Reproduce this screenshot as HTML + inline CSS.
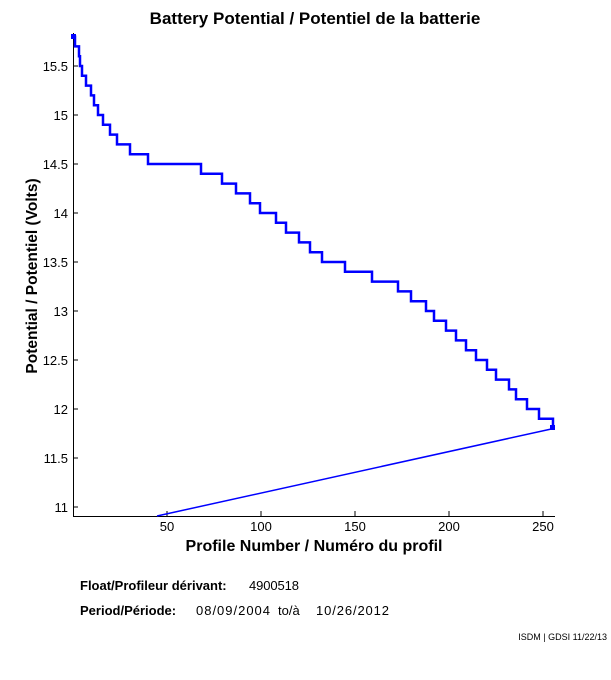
<!DOCTYPE html>
<html><head><meta charset="utf-8"><style>
body{margin:0;background:#fff;}
svg text{font-family:"Liberation Sans",sans-serif;}
</style></head><body>
<svg width="611" height="675" xmlns="http://www.w3.org/2000/svg">
<rect width="611" height="675" fill="#fff"/>
<text x="315" y="24" font-size="17" font-weight="bold" text-anchor="middle">Battery Potential / Potentiel de la batterie</text>
<g stroke="#000" stroke-width="1">
<line x1="73.5" y1="33" x2="73.5" y2="517"/>
<line x1="73" y1="516.5" x2="555" y2="516.5"/>
<line x1="73" y1="507" x2="78" y2="507"/><line x1="73" y1="458" x2="78" y2="458"/>
<line x1="73" y1="409" x2="78" y2="409"/><line x1="73" y1="360" x2="78" y2="360"/>
<line x1="73" y1="311" x2="78" y2="311"/><line x1="73" y1="262" x2="78" y2="262"/>
<line x1="73" y1="213" x2="78" y2="213"/><line x1="73" y1="164" x2="78" y2="164"/>
<line x1="73" y1="115" x2="78" y2="115"/><line x1="73" y1="66" x2="78" y2="66"/>
<line x1="167" y1="516" x2="167" y2="511"/><line x1="261" y1="516" x2="261" y2="511"/>
<line x1="355" y1="516" x2="355" y2="511"/><line x1="449" y1="516" x2="449" y2="511"/>
<line x1="543" y1="516" x2="543" y2="511"/>
</g>
<g font-size="13" text-anchor="end">
<text x="68" y="512">11</text><text x="68" y="463">11.5</text><text x="68" y="414">12</text>
<text x="68" y="365">12.5</text><text x="68" y="316">13</text><text x="68" y="267">13.5</text>
<text x="68" y="218">14</text><text x="68" y="169">14.5</text><text x="68" y="120">15</text>
<text x="68" y="71">15.5</text>
</g>
<g font-size="13" text-anchor="middle">
<text x="167" y="531">50</text><text x="261" y="531">100</text><text x="355" y="531">150</text>
<text x="449" y="531">200</text><text x="543" y="531">250</text>
</g>
<text x="314" y="551" font-size="16" font-weight="bold" text-anchor="middle">Profile Number / Numéro du profil</text>
<text transform="translate(37,276) rotate(-90)" font-size="15.5" font-weight="bold" text-anchor="middle">Potential / Potentiel (Volts)</text>
<path fill="none" stroke="#0000ff" stroke-width="2.5" d="M73,36.6 H75 V46.4 H79 V56.2 H80 V66 H82 V75.8 H86 V85.6 H91 V95.4 H94 V105.2 H98 V115 H103 V124.8 H110 V134.6 H117 V144.4 H130 V154.2 H148 V164 H201 V173.8 H222 V183.6 H236 V193.4 H250 V203.2 H260 V213 H276 V222.8 H286 V232.6 H299 V242.4 H310 V252.2 H322 V262 H345 V271.8 H372 V281.6 H398 V291.4 H411 V301.2 H426 V311 H434 V320.8 H446 V330.6 H456 V340.4 H466 V350.2 H476 V360 H487 V369.8 H496 V379.6 H509 V389.4 H516 V399.2 H527 V409 H539 V418.8 H553 V428.6"/>
<path fill="none" stroke="#0000ff" stroke-width="1.5" d="M553,428.6 L157,516"/>
<rect x="71" y="34" width="5" height="5" fill="#0000ff"/>
<rect x="550" y="425" width="5" height="5" fill="#0000ff"/>
<text x="80" y="590" font-size="13" font-weight="bold">Float/Profileur dérivant:</text>
<text x="249" y="590" font-size="13" textLength="50">4900518</text>
<text x="80" y="615" font-size="13" font-weight="bold">Period/Période:</text>
<text x="196" y="615" font-size="13" textLength="74">08/09/2004</text>
<text x="278" y="615" font-size="13">to/à</text>
<text x="316" y="615" font-size="13" textLength="73">10/26/2012</text>
<text x="607" y="640" font-size="9" text-anchor="end">ISDM | GDSI 11/22/13</text>
</svg>
</body></html>
